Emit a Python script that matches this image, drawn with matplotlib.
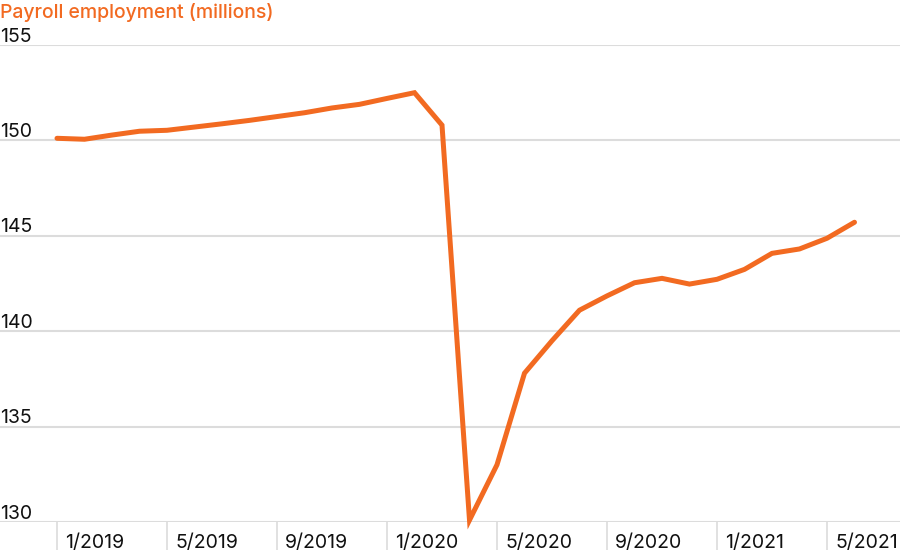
import numpy as np
import matplotlib.pyplot as plt
import matplotlib.transforms as mtransforms

# monthly payroll employment, Jan 2019 - Jun 2021 (millions)
months = np.arange(30)
payroll = [150.11, 150.06, 150.28, 150.48, 150.53, 150.70, 150.87, 151.05,
           151.25, 151.45, 151.70, 151.89, 152.20, 152.50, 150.80, 130.10,
           133.00, 137.80, 139.50, 141.10, 141.85, 142.54, 142.77, 142.47,
           142.72, 143.24, 144.08, 144.31, 144.87, 145.71]

tick_pos = [0, 4, 8, 12, 16, 20, 24, 28]
tick_labels = ["1/2019", "5/2019", "9/2019", "1/2020",
               "5/2020", "9/2020", "1/2021", "5/2021"]
y_ticks = [130, 135, 140, 145, 150, 155]

ORANGE = "#F26A21"
GRID = "#dcdcdc"

plt.rcParams['font.family'] = ['Inter', 'DejaVu Sans']

fig = plt.figure(figsize=(9, 5.55), dpi=100)
ax = fig.add_axes([0, 33 / 555, 1, 477 / 555])

ax.plot(months, payroll, color=ORANGE, lw=3.6, solid_joinstyle='miter',
        solid_capstyle='round', clip_on=False, zorder=3)

# x pixel = 57 + 27.5 * month
ax.set_xlim(-57 / 27.5, (900 - 57) / 27.5)
ax.set_ylim(130, 155)

for s in ax.spines.values():
    s.set_visible(False)

ax.set_yticks(y_ticks)
ax.set_yticklabels([str(v) for v in y_ticks])
ax.yaxis.grid(True, color=GRID, lw=1.5)
ax.set_axisbelow(True)
ax.tick_params(axis='y', length=0, pad=0, labelsize=14, labelcolor='#111111')
for lab in ax.get_yticklabels():
    lab.set_horizontalalignment('left')
    lab.set_verticalalignment('baseline')
    lab.set_transform(lab.get_transform() +
                      mtransforms.ScaledTranslation(0, 2.5 / 72, fig.dpi_scale_trans))

ax.set_xticks(tick_pos)
ax.set_xticklabels(tick_labels)
ax.tick_params(axis='x', direction='out', length=20, width=1.2, color=GRID,
               pad=-11, labelsize=14, labelcolor='#111111')
for lab in ax.get_xticklabels():
    lab.set_horizontalalignment('left')
    lab.set_transform(lab.get_transform() +
                      mtransforms.ScaledTranslation(6 / 72, 0, fig.dpi_scale_trans))

fig.text(0.0, 1 - 13 / 555, "Payroll employment (millions)", color=ORANGE,
         fontsize=14, fontweight='medium', ha='left', va='center')

fig.savefig("out.png", dpi=100)
